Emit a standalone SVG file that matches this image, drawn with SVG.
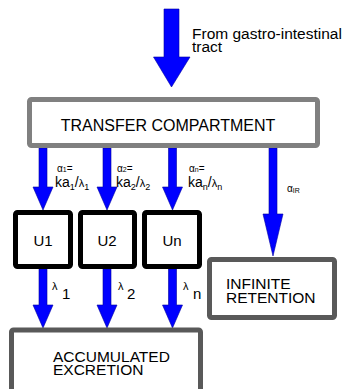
<svg xmlns="http://www.w3.org/2000/svg" width="346" height="389" viewBox="0 0 346 389">
<style>
.t{font-family:"Liberation Sans",Arial,sans-serif;fill:#000}
.arr{fill:#0000ff;stroke:#0000a0;stroke-width:0.6}
.gl{fill:#fff;stroke:#808080;stroke-width:5}
.gd{fill:#fff;stroke:#595959;stroke-width:5}
.bk{fill:#fff;stroke:#000;stroke-width:5}
</style>
<rect width="346" height="389" fill="#fff"/>
<g id="connectors">
<polygon class="arr" points="164,9 179,9 179,57 190,57 171.5,87 153.5,57 164,57"/>
<polygon class="arr" points="39,148 47,148 47,187 53,187 43,210 33,187 39,187"/>
<polygon class="arr" points="103,148 111,148 111,187 117,187 107,210 97,187 103,187"/>
<polygon class="arr" points="168.5,148 176.5,148 176.5,187 182.5,187 172.5,210 162.5,187 168.5,187"/>
<polygon class="arr" points="269,148 277,148 277,214 283,214 273,256 263,214 269,214"/>
<polygon class="arr" points="39,269 47,269 47,305 53,305 43,328 33,305 39,305"/>
<polygon class="arr" points="103,269 111,269 111,305 117,305 107,328 97,305 103,305"/>
<polygon class="arr" points="168.5,269 176.5,269 176.5,305 182.5,305 172.5,328 162.5,305 168.5,305"/>
</g>
<g id="source-label">
<text class="t" x="192" y="39" font-size="15.5">From gastro-intestinal</text>
<text class="t" x="192" y="52" font-size="15.5">tract</text>
</g>
<g id="transfer">
<rect class="gl" x="29.5" y="99.5" width="288" height="46" rx="2"/>
<text class="t" x="168" y="131" font-size="16" text-anchor="middle">TRANSFER COMPARTMENT</text>
</g>
<g id="labels">
<text class="t" x="57" y="171.5" font-size="10">α<tspan font-size="7" dy="0.5">1</tspan><tspan dy="-0.5">=</tspan></text>
<text class="t" x="55" y="186.5" font-size="14">ka<tspan font-size="9" dy="3">1</tspan><tspan dy="-3">/</tspan><tspan font-size="11">λ</tspan><tspan font-size="9" dy="3">1</tspan></text>
<text class="t" x="117" y="171.5" font-size="10">α<tspan font-size="7" dy="0.5">2</tspan><tspan dy="-0.5">=</tspan></text>
<text class="t" x="116" y="186.5" font-size="14">ka<tspan font-size="9" dy="3">2</tspan><tspan dy="-3">/</tspan><tspan font-size="11">λ</tspan><tspan font-size="9" dy="3">2</tspan></text>
<text class="t" x="189" y="171.5" font-size="10">α<tspan font-size="7" dy="0.5">n</tspan><tspan dy="-0.5">=</tspan></text>
<text class="t" x="188" y="186.5" font-size="14">ka<tspan font-size="9" dy="3">n</tspan><tspan dy="-3">/</tspan><tspan font-size="11">λ</tspan><tspan font-size="9" dy="3">n</tspan></text>
<text class="t" x="287" y="192" font-size="10">α<tspan font-size="7" dy="1">IR</tspan></text>
<text class="t" x="52" y="290" font-size="11">λ</text><text class="t" x="62" y="299" font-size="15">1</text>
<text class="t" x="118" y="290" font-size="11">λ</text><text class="t" x="127" y="299" font-size="15">2</text>
<text class="t" x="183" y="290" font-size="11">λ</text><text class="t" x="193" y="299" font-size="15">n</text>
</g>
<g id="U1">
<rect class="bk" x="15.5" y="212.5" width="55" height="54" rx="2"/>
<text class="t" x="43" y="246" font-size="15" text-anchor="middle">U1</text>
</g>
<g id="U2">
<rect class="bk" x="80.5" y="212.5" width="54" height="54" rx="2"/>
<text class="t" x="107" y="246" font-size="15" text-anchor="middle">U2</text>
</g>
<g id="Un">
<rect class="bk" x="144.5" y="212.5" width="55" height="54" rx="2"/>
<text class="t" x="172" y="246" font-size="15" text-anchor="middle">Un</text>
</g>
<g id="infinite">
<rect class="gd" x="209.5" y="259.5" width="125" height="58" rx="2"/>
<text class="t" x="226" y="289" font-size="15.5">INFINITE</text>
<text class="t" x="226" y="303" font-size="15.5">RETENTION</text>
</g>
<g id="excretion">
<rect class="gd" x="11.5" y="330" width="189" height="70" rx="2"/>
<text class="t" x="53" y="362" font-size="15.5">ACCUMULATED</text>
<text class="t" x="53" y="375" font-size="15.5">EXCRETION</text>
</g>
</svg>
